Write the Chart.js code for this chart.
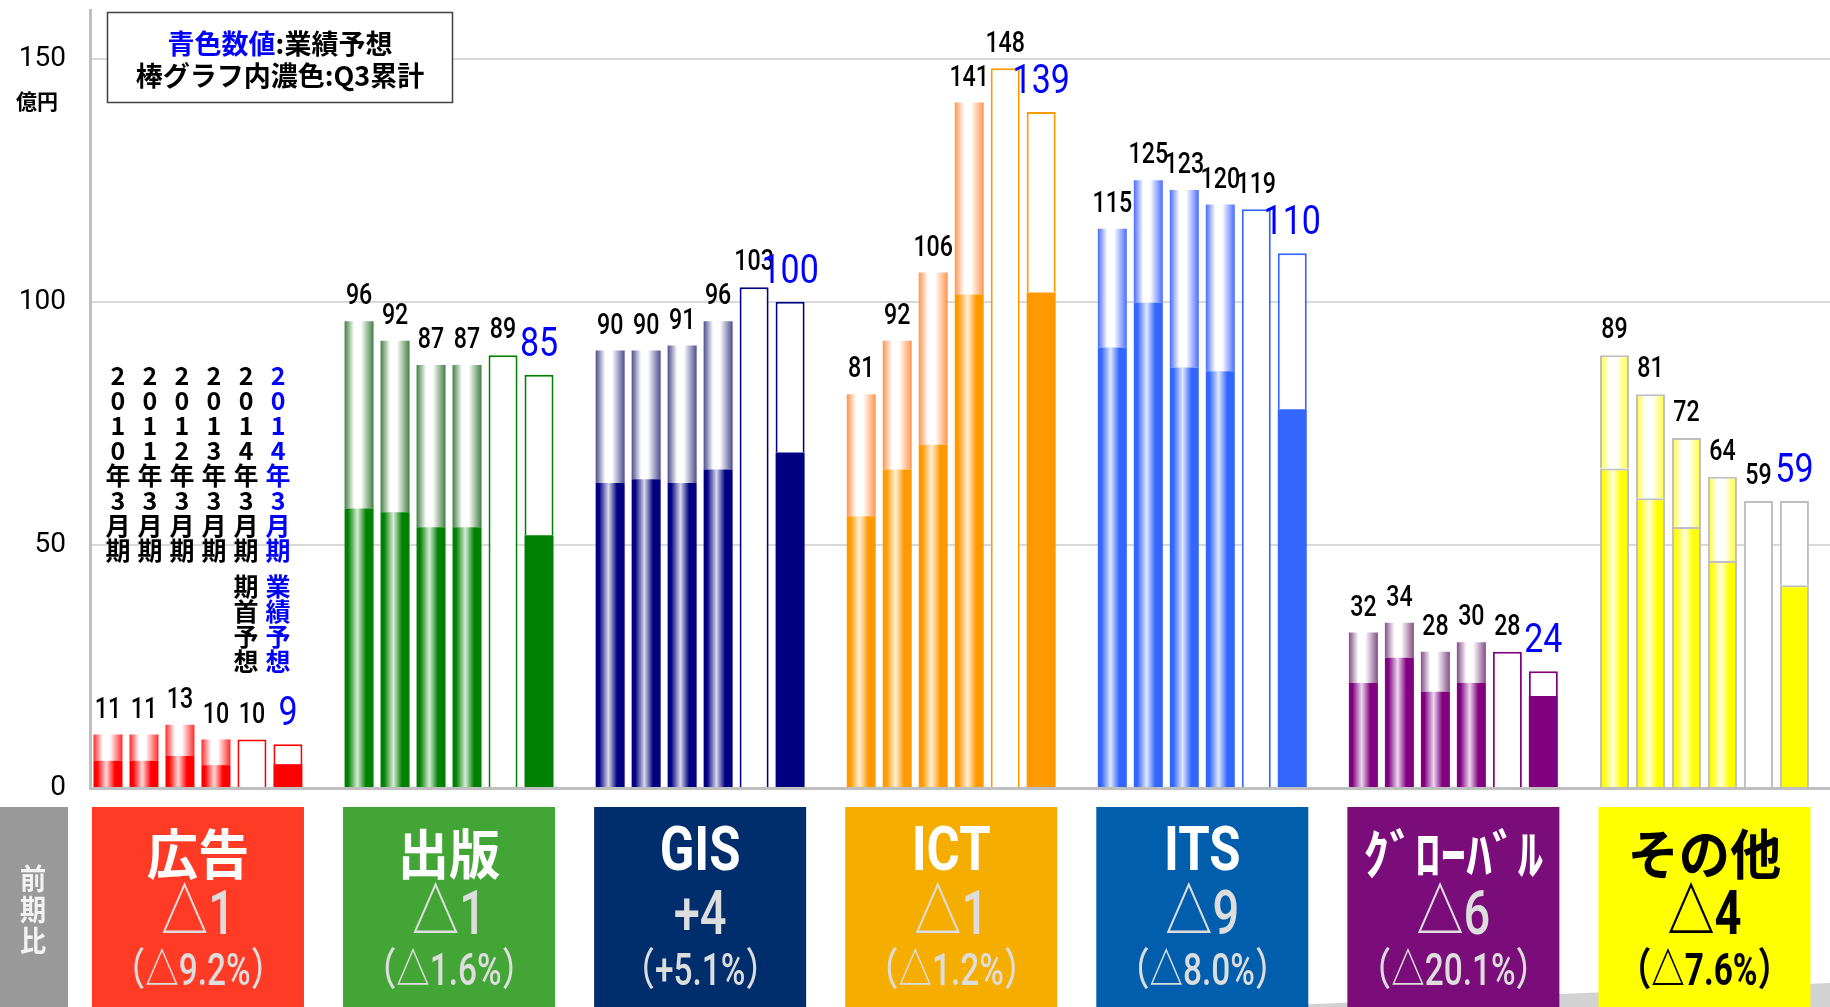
<!DOCTYPE html>
<html>
<head>
<meta charset="utf-8">
<title>セグメント別売上高</title>
<script src="https://cdn.jsdelivr.net/npm/chart.js"></script>
<style>
  html, body { margin: 0; padding: 0; background: #fff; }
  #wrap { width: 1830px; height: 1007px; }
</style>
</head>
<body>
<div id="wrap"><canvas id="chart" width="1830" height="1007"></canvas></div>
<script>
// segments (left to right)
var segments = ['広告', '出版', 'GIS', 'ICT', 'ITS', 'ｸﾞﾛｰﾊﾞﾙ', 'その他'];

// full-year sales, 億円
var total2010 = [11, 96, 90, 81, 115, 32, 89];
var total2011 = [11, 92, 90, 92, 125, 34, 81];
var total2012 = [13, 87, 91, 106, 123, 28, 72];
var total2013 = [10, 87, 96, 141, 120, 30, 64];
var plan2014 = [10, 89, 103, 148, 119, 28, 59];     // 期首予想
var forecast2014 = [9, 85, 100, 139, 110, 24, 59];  // 業績予想

// Q3 cumulative, 億円
var q3_2010 = [5.6, 57.5, 62.7, 55.9, 90.6, 21.6, 65.7];
var q3_2011 = [5.6, 56.7, 63.5, 65.5, 99.8, 26.8, 59.6];
var q3_2012 = [6.6, 53.6, 62.7, 70.6, 86.5, 19.8, 53.7];
var q3_2013 = [4.7, 53.6, 65.5, 101.5, 85.7, 21.6, 46.7];
var q3_2014 = [4.9, 52.0, 69.0, 101.9, 77.9, 18.9, 41.7];

// 前期比
var diffValues = ['△1', '△1', '+4', '△1', '△9', '△6', '△4'];
var diffRates = ['（△9.2%）', '（△1.6%）', '（+5.1%）', '（△1.2%）', '（△8.0%）', '（△20.1%）', '（△7.6%）'];

var periodLabels = ['2010年3月期', '2011年3月期', '2012年3月期', '2013年3月期', '2014年3月期', '2014年3月期'];
var periodNotes = ['', '', '', '', '期首予想', '業績予想'];
var yTicks = [0, 50, 100, 150];

var barColors = ['#ff0000', '#008000', '#000080', '#ff9900', '#3366ff', '#800080', '#ffff00'];
var edgeColors = ['#ff2a2a', '#437f43', '#4d4d8e', '#ff944d', '#4a6cff', '#854e85', '#ffff30'];
var boxColors = ['#ff3b26', '#43a535', '#002d6b', '#f5ad00', '#005ead', '#7b0d7b', '#ffff00'];

var totals = [total2010, total2011, total2012, total2013, plan2014, forecast2014];
var q3s = [q3_2010, q3_2011, q3_2012, q3_2013, null, q3_2014];

function points(values) {
    return values.map(function (v, i) { return { x: i, y: v }; });
}

function minus(a, b) {
    return a.map(function (v, i) { return Math.round((v - b[i]) * 10) / 10; });
}

// blend a hex colour toward white
function mix(hex, t) {
    var n = parseInt(hex.slice(1), 16);
    var r = n >> 16 & 255, g = n >> 8 & 255, b = n & 255;
    r = Math.round(r + (255 - r) * t);
    g = Math.round(g + (255 - g) * t);
    b = Math.round(b + (255 - b) * t);
    return 'rgb(' + r + ',' + g + ',' + b + ')';
}

function outline(c) { return c.dataIndex === 6 ? '#bfbfbf' : barColors[c.dataIndex]; }
function grayEdge(c) { return c.dataIndex === 6 ? 2 : 0; }
function baseFill(c) { return barColors[c.dataIndex]; }

// two stacked pieces per period: Q3 part and the rest of the year
var datasets = [];
var topOfStack = [];
totals.forEach(function (tot, k) {
    var stack = 'p' + k;
    if (k === 4) {
        topOfStack.push(datasets.length);
        datasets.push({ kind: 'plan', stack: stack, data: points(tot), borderWidth: 2, borderColor: outline, backgroundColor: baseFill });
        return;
    }
    var q3 = q3s[k];
    var last = k === 5;
    datasets.push({ kind: last ? 'solid' : 'q3', stack: stack, data: points(q3), borderWidth: grayEdge, borderColor: '#bfbfbf', backgroundColor: baseFill });
    topOfStack.push(datasets.length);
    datasets.push({ kind: last ? 'open' : 'rest', stack: stack, data: points(minus(tot, q3)), borderWidth: last ? 2 : grayEdge, borderColor: last ? outline : '#bfbfbf', backgroundColor: baseFill });
});

function grad(ctx, el, stops) {
    var g = ctx.createLinearGradient(el.x - el.width / 2, 0, el.x + el.width / 2, 0);
    stops.forEach(function (s) { g.addColorStop(s[0], s[1]); });
    return g;
}

function drawNarrow(ctx, text, x, y, font, color, sx, align) {
    ctx.save();
    ctx.font = font;
    ctx.fillStyle = color;
    ctx.textAlign = align || 'center';
    ctx.textBaseline = 'middle';
    ctx.translate(x, y);
    ctx.scale(sx, 1);
    ctx.fillText(text, 0, 0);
    ctx.restore();
}

// cylinder-like shading across each bar
var barFill = {
    id: 'barFill',
    beforeDatasetsDraw: function (chart) {
        var ctx = chart.ctx;
        chart.data.datasets.forEach(function (ds, d) {
            chart.getDatasetMeta(d).data.forEach(function (el, i) {
                var c = barColors[i], e = edgeColors[i], fill;
                if (ds.kind === 'q3') {
                    fill = grad(ctx, el, [[0, c], [0.12, c], [0.44, mix(c, 0.85)], [0.74, c], [1, c]]);
                } else if (ds.kind === 'rest') {
                    fill = grad(ctx, el, [[0, e], [0.33, '#ffffff'], [0.56, '#ffffff'], [1, e]]);
                } else if (ds.kind === 'solid') {
                    fill = c;
                } else {
                    fill = '#ffffff';
                }
                el.options.backgroundColor = fill;
            });
        });
    }
};

var decorations = {
    id: 'decorations',
    afterDraw: function (chart) {
        var ctx = chart.ctx;
        var xs = chart.scales.x, ys = chart.scales.y;
        var jp = '"Noto Sans CJK JP", sans-serif';
        var num = 'Roboto, "Noto Sans CJK JP", sans-serif';

        // value labels on top of every bar
        totals.forEach(function (tot, k) {
            var meta = chart.getDatasetMeta(topOfStack[k]);
            tot.forEach(function (v, i) {
                var el = meta.data[i];
                var y = ys.getPixelForValue(v);
                if (k === 5) {
                    drawNarrow(ctx, String(v), el.x, y - 29, '40px Roboto', '#0000ff', 0.85);
                } else {
                    drawNarrow(ctx, String(v), el.x, y - 24, '500 29px Roboto', '#000000', 0.8);
                }
            });
        });

        // vertical period captions above the first group
        var gc = xs.getPixelForValue(0);
        periodLabels.forEach(function (label, k) {
            var el = chart.getDatasetMeta(topOfStack[k]).data[0];
            var cx = gc + (el.x - gc) * 0.89;
            var color = k === 5 ? '#0000ff' : '#000000';
            Array.from(label).forEach(function (ch, j) {
                drawNarrow(ctx, ch, cx, 375 + 25 * j, 'bold 25px ' + jp, color, 1);
            });
            Array.from(periodNotes[k]).forEach(function (ch, j) {
                drawNarrow(ctx, ch, cx, 586 + 25.3 * j, 'bold 25px ' + jp, color, 1);
            });
        });

        // note box
        ctx.save();
        ctx.fillStyle = '#ffffff';
        ctx.strokeStyle = '#404040';
        ctx.lineWidth = 1.5;
        ctx.fillRect(107.5, 12.5, 345, 90);
        ctx.strokeRect(107.5, 12.5, 345, 90);
        ctx.font = 'bold 27px ' + jp;
        ctx.textBaseline = 'middle';
        ctx.textAlign = 'left';
        var a = '青色数値', b = ':業績予想';
        var wa = ctx.measureText(a).width, wb = ctx.measureText(b).width;
        var sx = 280 - (wa + wb) / 2;
        ctx.fillStyle = '#0000ff';
        ctx.fillText(a, sx, 44);
        ctx.fillStyle = '#000000';
        ctx.fillText(b, sx + wa, 44);
        ctx.textAlign = 'center';
        ctx.fillText('棒グラフ内濃色:Q3累計', 280, 76);
        ctx.restore();

        // unit
        drawNarrow(ctx, '億円', 37, 101, 'bold 21px ' + jp, '#000000', 1);

        // strip of change boxes along the bottom
        ctx.save();
        ctx.fillStyle = '#d2d2d2';
        ctx.beginPath();
        ctx.moveTo(1240, 1007);
        ctx.lineTo(1830, 983);
        ctx.lineTo(1830, 1007);
        ctx.closePath();
        ctx.fill();
        ctx.fillStyle = '#999999';
        ctx.fillRect(0, 807, 68, 200);
        ctx.restore();
        ['前', '期', '比'].forEach(function (ch, j) {
            drawNarrow(ctx, ch, 33, 879 + 31 * j, 'bold 29px ' + jp, '#f2f2f2', 0.9);
        });

        segments.forEach(function (name, i) {
            var cx = xs.getPixelForValue(i);
            ctx.fillStyle = boxColors[i];
            ctx.fillRect(cx - 106, 807, 212, 200);
            var dark = i === 6;
            var latin = /^[A-Z]+$/.test(name);
            var ink = dark ? '#000000' : '#dddddd';
            drawNarrow(ctx, name, cx, 854, (latin ? 'bold 62px ' + num : 'bold 54px ' + jp), dark ? '#000000' : '#ffffff', latin ? 0.82 : 0.95);
            drawNarrow(ctx, diffValues[i], cx, 918, (dark ? 'bold ' : '500 ') + '62px ' + num, ink, 0.76);
            drawNarrow(ctx, diffRates[i], cx, 974, (dark ? 'bold ' : '500 ') + '44px ' + num, ink, 0.76);
        });
    }
};

new Chart(document.getElementById('chart'), {
    type: 'bar',
    data: { datasets: datasets },
    options: {
        responsive: false,
        animation: false,
        events: [],
        devicePixelRatio: 1,
        layout: { padding: { top: 10, bottom: 219, left: 0, right: 0 } },
        plugins: { legend: { display: false }, tooltip: { enabled: false } },
        datasets: { bar: { categoryPercentage: 0.86, barPercentage: 0.806 } },
        scales: {
            x: {
                type: 'linear',
                min: -0.43,
                max: 6.5,
                offset: false,
                // one tick per segment so bar widths follow the segment spacing
                afterBuildTicks: function (s) {
                    s.ticks = segments.map(function (n, i) { return { value: i }; });
                },
                grid: { display: false, drawTicks: false },
                ticks: { display: false },
                border: { color: '#bfbfbf', width: 3 }
            },
            y: {
                stacked: true,
                min: 0,
                max: 160,
                afterBuildTicks: function (s) {
                    s.ticks = yTicks.map(function (v) { return { value: v }; });
                },
                afterFit: function (s) {
                    s.width = 90;
                    s.paddingTop = 0;
                    s.paddingBottom = 0;
                },
                grid: { color: '#d9d9d9', lineWidth: 2, drawTicks: false },
                border: { color: '#bfbfbf', width: 3 },
                ticks: { padding: 24, color: '#000000', font: { family: 'Roboto', size: 28 } }
            }
        }
    },
    plugins: [barFill, decorations]
});
</script>
</body>
</html>
